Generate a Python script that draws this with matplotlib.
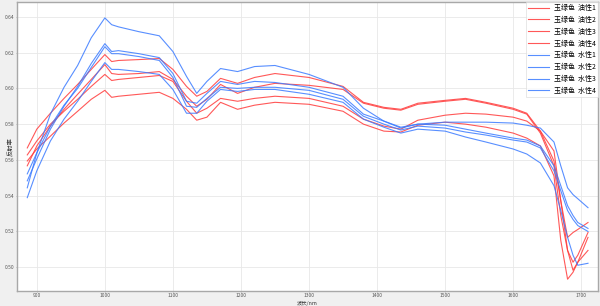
import matplotlib
matplotlib.use("Agg")
import matplotlib.pyplot as plt

plt.rcParams['font.family'] = ['Noto Sans CJK SC', 'DejaVu Sans']

wavelength = [886, 900, 920, 940, 960, 980, 1000, 1010, 1020, 1050, 1080, 1100, 1120, 1135, 1150,
              1170, 1195, 1220, 1250, 1300, 1350, 1380, 1410, 1435, 1460, 1500, 1530, 1560, 1600,
              1620, 1640, 1660, 1670, 1680, 1688, 1695, 1710]

oil1 = [0.5667, 0.5772, 0.5861, 0.5944, 0.6022, 0.6106, 0.6189, 0.6150, 0.6156, 0.6161, 0.6167, 0.6106,
        0.6011, 0.5956, 0.5983, 0.6056, 0.6028, 0.6061, 0.6083, 0.6061, 0.6011, 0.5922, 0.5894, 0.5883,
        0.5917, 0.5933, 0.5944, 0.5922, 0.5889, 0.5861, 0.5761, 0.5594, 0.5372, 0.5167, 0.5194, 0.5211, 0.5250]
oil2 = [0.5567, 0.5678, 0.5789, 0.5883, 0.5967, 0.6050, 0.6133, 0.6083, 0.6078, 0.6083, 0.6094, 0.6050,
        0.5956, 0.5900, 0.5939, 0.6022, 0.5972, 0.6006, 0.6028, 0.6017, 0.5994, 0.5917, 0.5889, 0.5878,
        0.5911, 0.5928, 0.5939, 0.5917, 0.5883, 0.5856, 0.5750, 0.5567, 0.5289, 0.5094, 0.5028, 0.5067, 0.5194]
oil3 = [0.5628, 0.5706, 0.5800, 0.5872, 0.5939, 0.6011, 0.6078, 0.6044, 0.6050, 0.6061, 0.6072, 0.6039,
        0.5928, 0.5861, 0.5889, 0.5944, 0.5928, 0.5944, 0.5956, 0.5944, 0.5900, 0.5828, 0.5789, 0.5772,
        0.5822, 0.5850, 0.5861, 0.5856, 0.5839, 0.5817, 0.5761, 0.5650, 0.5372, 0.5094, 0.4983, 0.5028, 0.5167]
oil4 = [0.5594, 0.5661, 0.5733, 0.5806, 0.5872, 0.5939, 0.5989, 0.5950, 0.5956, 0.5967, 0.5978, 0.5944,
        0.5883, 0.5822, 0.5839, 0.5922, 0.5883, 0.5906, 0.5922, 0.5911, 0.5872, 0.5800, 0.5761, 0.5756,
        0.5794, 0.5811, 0.5800, 0.5783, 0.5750, 0.5722, 0.5678, 0.5511, 0.5150, 0.4933, 0.4972, 0.5028, 0.5094]
water1 = [0.5444, 0.5639, 0.5856, 0.6006, 0.6128, 0.6283, 0.6394, 0.6356, 0.6344, 0.6317, 0.6294, 0.6206,
          0.6067, 0.5972, 0.6039, 0.6111, 0.6094, 0.6122, 0.6128, 0.6078, 0.6006, 0.5889, 0.5817, 0.5778,
          0.5800, 0.5811, 0.5811, 0.5811, 0.5806, 0.5794, 0.5778, 0.5700, 0.5567, 0.5444, 0.5406, 0.5383, 0.5333]
water2 = [0.5483, 0.5606, 0.5772, 0.5900, 0.6011, 0.6139, 0.6250, 0.6206, 0.6211, 0.6194, 0.6172, 0.6083,
          0.5928, 0.5917, 0.5972, 0.6039, 0.6022, 0.6039, 0.6033, 0.6006, 0.5956, 0.5856, 0.5817, 0.5783,
          0.5800, 0.5794, 0.5772, 0.5750, 0.5722, 0.5711, 0.5678, 0.5567, 0.5456, 0.5344, 0.5289, 0.5250, 0.5217]
water3 = [0.5522, 0.5639, 0.5789, 0.5906, 0.6000, 0.6117, 0.6233, 0.6194, 0.6194, 0.6178, 0.6156, 0.6061,
          0.5900, 0.5894, 0.5944, 0.6006, 0.6000, 0.6006, 0.6006, 0.5989, 0.5939, 0.5844, 0.5800, 0.5767,
          0.5789, 0.5778, 0.5756, 0.5739, 0.5711, 0.5700, 0.5667, 0.5539, 0.5428, 0.5317, 0.5267, 0.5233, 0.5200]
water4 = [0.5389, 0.5539, 0.5706, 0.5828, 0.5928, 0.6039, 0.6144, 0.6106, 0.6106, 0.6094, 0.6078, 0.5994,
          0.5861, 0.5861, 0.5928, 0.5994, 0.5983, 0.5994, 0.5994, 0.5967, 0.5922, 0.5828, 0.5783, 0.5750,
          0.5772, 0.5761, 0.5728, 0.5700, 0.5661, 0.5633, 0.5583, 0.5456, 0.5317, 0.5167, 0.5067, 0.5011, 0.5022]

series_labels = ['玉绿色  油性1', '玉绿色  油性2', '玉绿色  油性3', '玉绿色  油性4',
                 '玉绿色  水性1', '玉绿色  水性2', '玉绿色  水性3', '玉绿色  水性4']
series_values = [oil1, oil2, oil3, oil4, water1, water2, water3, water4]
series_colors = ['#ff3b3b'] * 4 + ['#3b7bff'] * 4

x_ticks = [900, 1000, 1100, 1200, 1300, 1400, 1500, 1600, 1700]
y_ticks = [0.50, 0.52, 0.54, 0.56, 0.58, 0.60, 0.62, 0.64]

fig = plt.figure(figsize=(6.0, 3.06), dpi=100, facecolor='#f0f0f0')
ax = fig.add_axes([0.028, 0.049, 0.969, 0.9445])
ax.set_facecolor('white')

for vals, lab, col in zip(series_values, series_labels, series_colors):
    ax.plot(wavelength, vals, color=col, lw=0.8, alpha=0.85, label=lab)

ax.set_xlim(870.6, 1725)
ax.set_ylim(0.4867, 0.6483)
ax.set_xticks(x_ticks)
ax.set_yticks(y_ticks)
ax.set_xticklabels([str(t) for t in x_ticks])
ax.set_yticklabels(['%.2f' % t for t in y_ticks])
ax.tick_params(labelsize=3.5, length=0.8, width=0.4, colors='#888888', labelcolor='#555555', pad=0.3)
ax.tick_params(axis='y', pad=1.0)
ax.grid(True, color='#e8e8e8', lw=0.6)
ax.set_axisbelow(True)
for s in ax.spines.values():
    s.set_color('#a8a8a8')
    s.set_linewidth(1.0)

ax.set_xlabel('波长/nm', fontsize=3.8, color='#333333')
ax.xaxis.set_label_coords(0.5, -0.0505)
ax.xaxis.label.set_va('bottom')
ax.set_ylabel('反射率', fontsize=4.5, color='#333333')
ax.yaxis.set_label_coords(-0.009, 0.5)
ax.yaxis.label.set_va('center')

leg = ax.legend(loc='upper right', fontsize=5, frameon=True, fancybox=False,
                handlelength=3.0, handletextpad=0.8, borderpad=0.3, labelspacing=0.55,
                borderaxespad=0.0)
leg.get_frame().set_edgecolor('#dddddd')
leg.get_frame().set_linewidth(0.6)

fig.savefig('out.png', dpi=100, facecolor=fig.get_facecolor())
